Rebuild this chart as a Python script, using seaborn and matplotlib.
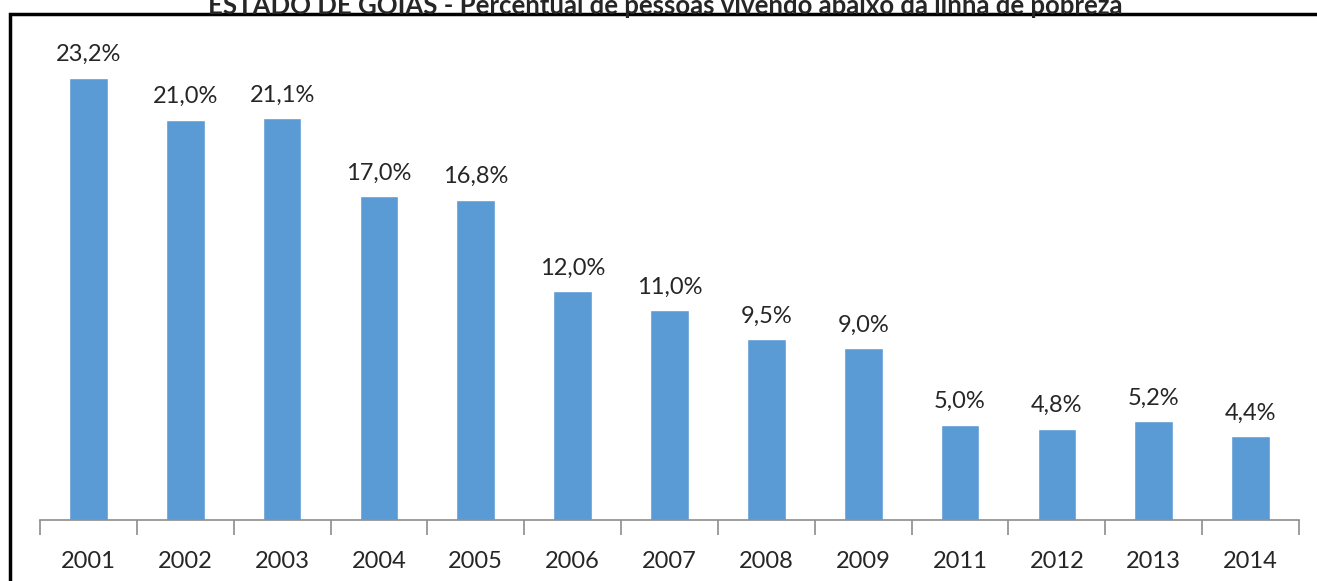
import matplotlib
matplotlib.use("Agg")
import matplotlib.pyplot as plt
import seaborn as sns
import pandas as pd
from matplotlib.patches import Rectangle

years = ["2001", "2002", "2003", "2004", "2005", "2006", "2007",
         "2008", "2009", "2011", "2012", "2013", "2014"]
percent = [23.2, 21.0, 21.1, 17.0, 16.8, 12.0, 11.0, 9.5, 9.0, 5.0, 4.8, 5.2, 4.4]
title = "ESTADO DE GOIÁS - Percentual de pessoas vivendo abaixo da linha de pobreza"

df = pd.DataFrame({"ano": years, "pct": percent})

sns.set_style("white")
plt.rcParams["font.family"] = ["Lato", "DejaVu Sans"]

fig = plt.figure(figsize=(13.17, 5.81), dpi=100)
ax = fig.add_axes([40 / 1317, 1 - 520 / 581, 1259 / 1317, 486 / 581])

sns.barplot(data=df, x="ano", y="pct", color="#5B9BD5", width=0.4,
            saturation=1, ax=ax)

labels = [f"{v:.1f}%".replace(".", ",") for v in percent]
ax.bar_label(ax.containers[0], labels=labels, padding=9, fontsize=17)

ax.set_xlim(-0.5, len(years) - 0.5)
ax.set_ylim(0, 25.5)
ax.set_xlabel("")
ax.set_ylabel("")
ax.set_yticks([])
for s in ["top", "right", "left"]:
    ax.spines[s].set_visible(False)
ax.spines["bottom"].set_color("#8c8c8c")
ax.spines["bottom"].set_linewidth(1.2)

ax.set_xticks(range(len(years)))
ax.set_xticklabels(years, fontsize=17)
ax.tick_params(axis="x", which="major", length=0, pad=22)
ax.set_xticks([i - 0.5 for i in range(len(years) + 1)], minor=True)
ax.tick_params(axis="x", which="minor", length=11, width=1.2, color="#8c8c8c",
               bottom=True)

# chart frame (partly cropped)
fig.patches.append(Rectangle((10 / 1317, -0.05), 1.2, 1 - 14 / 581 + 0.05,
                             transform=fig.transFigure, fill=False,
                             edgecolor="black", linewidth=2.5))

fig.text(665 / 1317, 1 - 3 / 581, title, ha="center", va="center",
         fontsize=18.5, fontweight="bold")

fig.savefig("out.png", dpi=100)
